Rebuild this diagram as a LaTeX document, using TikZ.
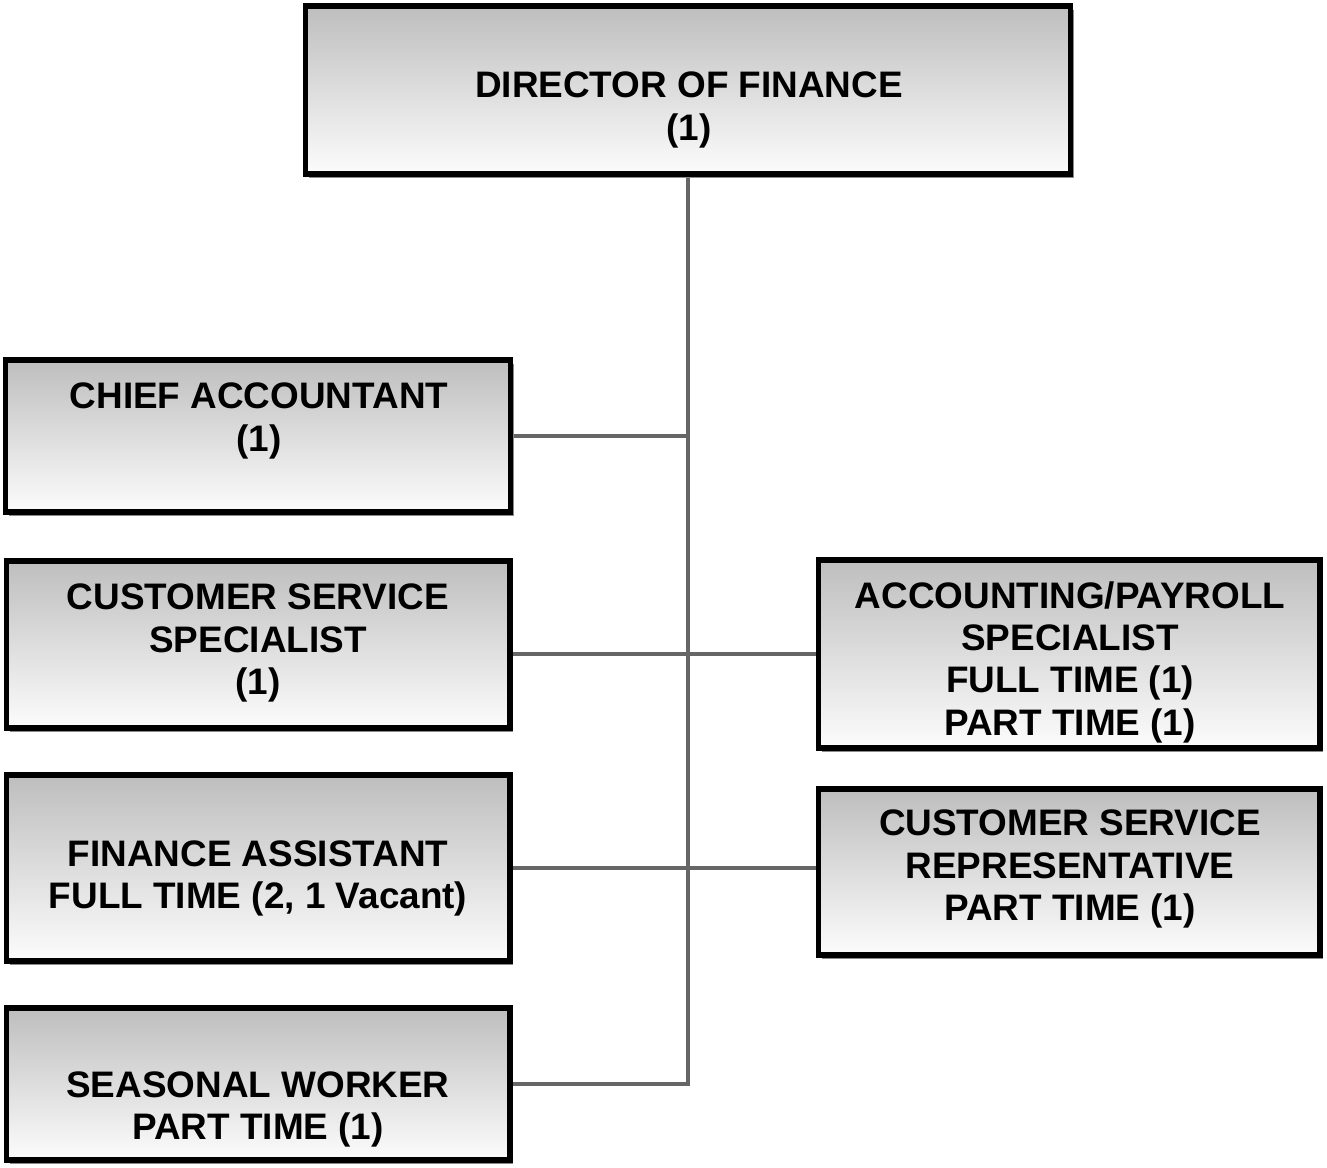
\documentclass[tikz,border=0pt]{standalone}
\usepackage{fontspec}
\setmainfont{Liberation Sans}
\usetikzlibrary{shadows,backgrounds}
\definecolor{boxtop}{HTML}{BEBEBE}
\definecolor{boxbot}{HTML}{FCFCFC}
\definecolor{linkgray}{HTML}{666666}
\definecolor{shadegray}{HTML}{8A8A8A}
\tikzset{
  orgbox/.style={draw=black, line width=2.9pt, top color=boxtop, bottom color=boxbot,
    inner sep=0pt, outer sep=0pt,
    general shadow={fill=shadegray, shadow xshift=2pt, shadow yshift=-2pt}},
  boxtext/.style={align=center, inner sep=0pt,
    font=\fontsize{21}{24.1}\selectfont\bfseries},
  link/.style={draw=linkgray, line width=2.4pt}
}
\begin{document}
\begin{tikzpicture}[x=0.02cm, y=-0.02cm]
\useasboundingbox (0,0) rectangle (1327,1167);

% boxes
\node[orgbox, minimum width=15.32cm, minimum height=3.36cm] (dir) at (688,90) {};
\node[orgbox, minimum width=10.10cm, minimum height=3.04cm] (ca)  at (258,436) {};
\node[orgbox, minimum width=10.08cm, minimum height=3.34cm] (css) at (258,644.5) {};
\node[orgbox, minimum width=10.08cm, minimum height=3.72cm] (fa)  at (258,868) {};
\node[orgbox, minimum width=10.08cm, minimum height=3.04cm] (sw)  at (258,1084) {};
\node[orgbox, minimum width=10.04cm, minimum height=3.76cm] (ap)  at (1069,654) {};
\node[orgbox, minimum width=10.04cm, minimum height=3.32cm] (csr) at (1069,872) {};

% titles
\node[boxtext] (dirt) at (689,110) {DIRECTOR OF FINANCE\\(1)};
\node[boxtext] (cat)  at (259,421) {CHIEF ACCOUNTANT\\(1)};
\node[boxtext] (csst) at (258,643) {CUSTOMER SERVICE\\SPECIALIST\\(1)};
\node[boxtext] (fat)  at (258,878.5) {FINANCE ASSISTANT\\FULL TIME (2, 1 Vacant)};
\node[boxtext] (swt)  at (258,1109.5) {SEASONAL WORKER\\PART TIME (1)};
\node[boxtext] (apt)  at (1070,662) {ACCOUNTING/PAYROLL\\SPECIALIST\\FULL TIME (1)\\PART TIME (1)};
\node[boxtext] (csrt) at (1070,869) {CUSTOMER SERVICE\\REPRESENTATIVE\\PART TIME (1)};

% reporting lines
\begin{pgfonlayer}{background}
\draw[link] (dir.south) |- (sw.east);
\draw[link] (ca.east) -- (ca.east -| dir.south);
\draw[link] (css.east |- ap.west) -- (ap.west);
\draw[link] (fa.east) -- (fa.east -| csr.west);
\end{pgfonlayer}
\end{tikzpicture}
\end{document}
